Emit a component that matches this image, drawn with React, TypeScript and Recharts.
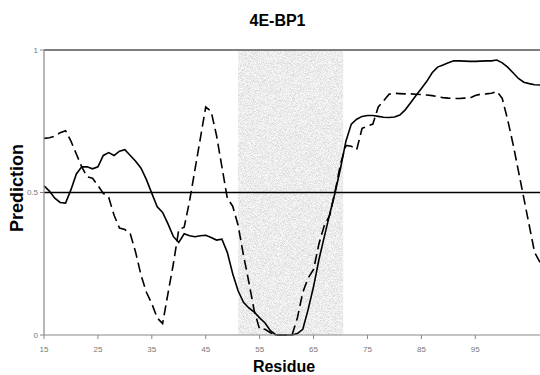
import React from 'react';
import { LineChart, Line, XAxis, YAxis, ReferenceLine, ReferenceArea } from 'recharts';

const residues = [
  15, 16, 17, 18, 19, 20, 21, 22, 23, 24,
  25, 26, 27, 28, 29, 30, 31, 32, 33, 34,
  35, 36, 37, 38, 39, 40, 41, 42, 43, 44,
  45, 46, 47, 48, 49, 50, 51, 52, 53, 54,
  55, 56, 57, 58, 59, 60, 61, 62, 63, 64,
  65, 66, 67, 68, 69, 70, 71, 72, 73, 74,
  75, 76, 77, 78, 79, 80, 81, 82, 83, 84,
  85, 86, 87, 88, 89, 90, 91, 92, 93, 94,
  95, 96, 97, 98, 99, 100, 101, 102, 103, 104,
  105, 106, 107,
];

const solidPrediction = [
  0.523, 0.505, 0.48, 0.465, 0.463, 0.51, 0.565, 0.59, 0.59, 0.583,
  0.59, 0.63, 0.64, 0.63, 0.645, 0.65, 0.63, 0.61, 0.585, 0.545,
  0.497, 0.45, 0.43, 0.39, 0.345, 0.325, 0.355, 0.348, 0.345, 0.348,
  0.35, 0.342, 0.333, 0.336, 0.29, 0.215, 0.155, 0.115, 0.095, 0.08,
  0.06, 0.042, 0.015, 0, 0, 0, 0, 0.005, 0.02, 0.09,
  0.17, 0.265, 0.345, 0.425, 0.5, 0.585, 0.68, 0.74, 0.757, 0.767,
  0.77, 0.77, 0.767, 0.764, 0.763, 0.765, 0.772, 0.79, 0.815, 0.84,
  0.865, 0.89, 0.92, 0.94, 0.947, 0.955, 0.962, 0.962, 0.961, 0.96,
  0.96, 0.961, 0.962, 0.962, 0.965, 0.955, 0.94, 0.92, 0.9, 0.887,
  0.882, 0.878, 0.877,
];

const dashedPrediction = [
  0.69, 0.692, 0.698, 0.71, 0.717, 0.68, 0.635, 0.59, 0.555, 0.55,
  0.525, 0.497, 0.483, 0.42, 0.375, 0.37, 0.355, 0.29, 0.21, 0.15,
  0.11, 0.06, 0.04, 0.146, 0.25, 0.37, 0.378, 0.47, 0.58, 0.69,
  0.8, 0.785, 0.7, 0.59, 0.48, 0.452, 0.385, 0.28, 0.185, 0.085,
  0.02, 0.02, 0.008, 0, 0, 0, 0, 0.06, 0.15, 0.2,
  0.23, 0.32, 0.385, 0.42, 0.505, 0.6, 0.665, 0.662, 0.65, 0.725,
  0.733, 0.74, 0.8, 0.822, 0.845, 0.848, 0.847, 0.846, 0.846, 0.845,
  0.844, 0.842, 0.84, 0.836, 0.833, 0.831, 0.83, 0.83, 0.831, 0.832,
  0.84, 0.845, 0.846, 0.848, 0.855, 0.83, 0.755, 0.67, 0.575, 0.48,
  0.385, 0.29, 0.255,
];

const xTicks = [15, 25, 35, 45, 55, 65, 75, 85, 95];
const yTicks = [0, 0.5, 1];
const shadedRegion = [51, 70.5];
const title = '4E-BP1';
const xTitle = 'Residue';
const yTitle = 'Prediction';

const data = residues.map((r, i) => ({
  residue: r,
  solid: solidPrediction[i],
  dashed: dashedPrediction[i],
}));

const FONT = '"Liberation Sans", Arial, sans-serif';

const SpeckleRect = (props: any) => (
  <rect
    x={props.x}
    y={props.y}
    width={props.width}
    height={props.height}
    fill="#d6d6d6"
    filter="url(#speckle)"
  />
);

export default function App() {
  return (
    <div style={{ position: 'absolute', left: 0, top: 0, width: 540, height: 375, background: '#fff' }}>
      <div
        style={{
          position: 'absolute',
          left: 0,
          width: 555,
          top: 13,
          textAlign: 'center',
          fontFamily: FONT,
          fontWeight: 'bold',
          fontSize: 16,
          lineHeight: '16px',
          color: '#000',
        }}
      >
        {title}
      </div>
      <LineChart
        width={540}
        height={375}
        data={data}
        margin={{ top: 50, right: 0, bottom: 0, left: 0 }}
      >
        <defs>
          <filter id="speckle" x="0" y="0" width="1" height="1" filterUnits="objectBoundingBox">
            <feTurbulence type="fractalNoise" baseFrequency="1.4" numOctaves="1" seed="7" result="t" />
            <feColorMatrix
              in="t"
              type="matrix"
              values="0.7 0 0 0 0.49  0.7 0 0 0 0.49  0.7 0 0 0 0.49  0 0 0 0 1"
              result="g"
            />
            <feComposite in="g" in2="SourceGraphic" operator="in" />
          </filter>
        </defs>
        <ReferenceArea
          x1={shadedRegion[0]}
          x2={shadedRegion[1]}
          y1={0}
          y2={1}
          fill="#d6d6d6"
          fillOpacity={1}
          stroke="none"
          ifOverflow="hidden"
          shape={SpeckleRect}
        />
        <XAxis
          dataKey="residue"
          type="number"
          domain={[15, 107]}
          ticks={xTicks}
          allowDataOverflow
          height={40}
          tickSize={4}
          tickMargin={7}
          axisLine={{ stroke: '#888', strokeWidth: 1.2 }}
          tickLine={{ stroke: '#888' }}
          tick={{ fill: '#777', fontSize: 8, fontFamily: FONT }}
          label={() => (
            <text x={284} y={372} textAnchor="middle" fontFamily={FONT} fontWeight="bold" fontSize={16} fill="#000">
              {xTitle}
            </text>
          )}
        />
        <YAxis
          type="number"
          domain={[0, 1]}
          ticks={yTicks}
          width={44}
          tickSize={4}
          tickMargin={2}
          axisLine={{ stroke: '#888', strokeWidth: 1.2 }}
          tickLine={{ stroke: '#888' }}
          tick={{ fill: '#777', fontSize: 8, fontFamily: FONT }}
          label={() => (
            <text
              x={23}
              y={188}
              transform="rotate(-90 23 188)"
              textAnchor="middle"
              fontFamily={FONT}
              fontWeight="bold"
              fontSize={18}
              fill="#000"
            >
              {yTitle}
            </text>
          )}
        />
        <ReferenceLine y={1} stroke="#555" strokeWidth={1.5} />
        <ReferenceLine y={0.5} stroke="#000" strokeWidth={1.5} />
        <Line
          dataKey="dashed"
          type="linear"
          stroke="#000"
          strokeWidth={1.6}
          strokeDasharray="10 5"
          dot={false}
          isAnimationActive={false}
        />
        <Line
          dataKey="solid"
          type="linear"
          stroke="#000"
          strokeWidth={1.6}
          dot={false}
          isAnimationActive={false}
        />
      </LineChart>
    </div>
  );
}
